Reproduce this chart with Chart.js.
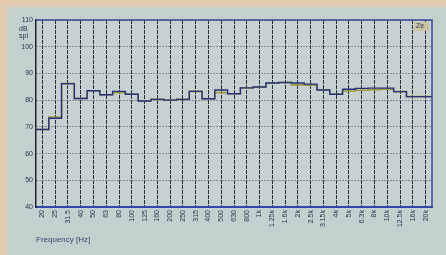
<!DOCTYPE html>
<html>
<head>
<meta charset="utf-8">
<script src="https://cdn.jsdelivr.net/npm/chart.js@4.4.1/dist/chart.umd.min.js"></script>
<style>
    html, body { margin: 0; padding: 0; }
    body {
        width: 446px; height: 255px; overflow: hidden;
        background:
            linear-gradient(to bottom, #e6c9a8 0px, #e0ccb3 5px, rgba(0,0,0,0) 9px),
            linear-gradient(to right, #e6c9a8 0px, #e0ccb3 5px, rgba(0,0,0,0) 9px),
            #c4d0cd;
    }
    canvas { display: block; }
</style>
</head>
<body>
<canvas id="dvCanvas" width="446" height="255"></canvas>
<script>
// 1/3 octave bands
var bands = ['20', '25', '31.5', '40', '50', '63', '80', '100', '125', '160', '200', '250', '315', '400', '500', '630',
    '800', '1k', '1.25k', '1.6k', '2k', '2.5k', '3.15k', '4k', '5k', '6.3k', '8k', '10k', '12.5k', '16k', '20k'];

// dB spl per band
var blueLevel = [69, 73.2, 86.2, 80.6, 83.5, 82, 83.3, 82.2, 79.7, 80.3, 80, 80.3, 83.3, 80.5, 83.8, 82.4,
    84.6, 84.9, 86.4, 86.6, 86.4, 86, 83.8, 82.2, 84.1, 84.4, 84.5, 84.5, 83.2, 81.3, 81.3];
var yellowLevel = [69, 73.7, 86.2, 80.6, 83.5, 82, 82.8, 82.2, 79.7, 80.3, 80, 80.3, 83.3, 80.5, 82.8, 82.4,
    84.6, 84.9, 86.4, 86.6, 85.7, 85.6, 83.8, 82.2, 83.4, 83.7, 83.9, 84.1, 83.2, 81.3, 81.3];

var yTicks = [40, 50, 60, 70, 80, 90, 100, 110];

// each band is drawn flat across its own width
function steps(levels) {
    var pts = levels.map(function (v, i) { return {x: i - 0.5, y: v}; });
    pts.push({x: levels.length - 0.5, y: levels[levels.length - 1]});
    return pts;
}

var extras = {
    id: 'extras',
    beforeDraw: function (chart) {
        var a = chart.chartArea, ctx = chart.ctx;
        ctx.save();
        ctx.fillStyle = '#c7d1d2';
        ctx.fillRect(a.left, a.top, a.right - a.left, a.bottom - a.top);
        ctx.restore();
    },
    afterDatasetsDraw: function (chart) {
        var a = chart.chartArea, ctx = chart.ctx;
        var y110 = chart.scales.y.getPixelForValue(110);
        ctx.save();
        // frame
        ctx.lineWidth = 1.5;
        ctx.strokeStyle = '#3a4a98';
        ctx.beginPath();
        ctx.moveTo(a.left, a.top);
        ctx.lineTo(a.right, a.top);
        ctx.lineTo(a.right, a.bottom);
        ctx.stroke();
        // unit under the top tick
        ctx.fillStyle = '#2c3452';
        ctx.font = '7px "Liberation Sans"';
        ctx.textAlign = 'left';
        ctx.textBaseline = 'middle';
        ctx.fillText('dB', 19, y110 + 9);
        ctx.fillText('spl', 19, y110 + 16);
        // little tag top right
        ctx.fillStyle = '#c9c3a6';
        ctx.fillRect(a.right - 18, a.top + 2, 15, 9);
        ctx.fillStyle = '#2c3452';
        ctx.fillText('Ze', a.right - 16, a.top + 6.5);
        ctx.restore();
    }
};

Chart.defaults.font.family = '"Liberation Sans", Arial, sans-serif';
Chart.defaults.font.size = 7;
Chart.defaults.color = '#2c3452';

var ctx = document.getElementById('dvCanvas').getContext('2d');
var myChart = new Chart(ctx, {
    type: 'line',
    data: {
        // first dataset is painted on top
        datasets: [{
            data: steps(blueLevel),
            borderColor: '#26307c',
            borderWidth: 1.4,
            stepped: true,
            pointRadius: 0,
            fill: false
        }, {
            data: steps(yellowLevel),
            borderColor: '#9c9a3c',
            borderWidth: 1.6,
            stepped: true,
            pointRadius: 0,
            fill: false
        }]
    },
    options: {
        responsive: false,
        animation: false,
        events: [],
        layout: {padding: {left: 0, top: 20, right: 14, bottom: 10}},
        plugins: {legend: {display: false}, tooltip: {enabled: false}},
        scales: {
            x: {
                type: 'linear',
                min: -0.5,
                max: bands.length - 0.5,
                afterBuildTicks: function (scale) {
                    scale.ticks = bands.map(function (b, i) { return {value: i}; });
                },
                afterFit: function (scale) { scale.height = 38; },
                ticks: {
                    autoSkip: false,
                    minRotation: 90,
                    maxRotation: 90,
                    padding: 3,
                    callback: function (value) { return bands[value]; }
                },
                grid: {color: '#262c3a', lineWidth: 1, drawTicks: false},
                border: {color: '#3048a8', width: 2, dash: [4, 1]},
                title: {
                    display: true,
                    text: 'Frequency [Hz]',
                    align: 'start',
                    color: '#3a4470',
                    font: {size: 8},
                    padding: {top: 0, bottom: 0}
                }
            },
            y: {
                min: 40,
                max: 110,
                afterBuildTicks: function (scale) {
                    scale.ticks = yTicks.map(function (v) { return {value: v}; });
                },
                afterFit: function (scale) { scale.width = 36; },
                ticks: {padding: 3},
                grid: {color: '#4a4666', lineWidth: 1, drawTicks: false},
                border: {color: '#1e2430', width: 1.5, dash: [1, 2]}
            }
        }
    },
    plugins: [extras]
});
</script>
</body>
</html>
